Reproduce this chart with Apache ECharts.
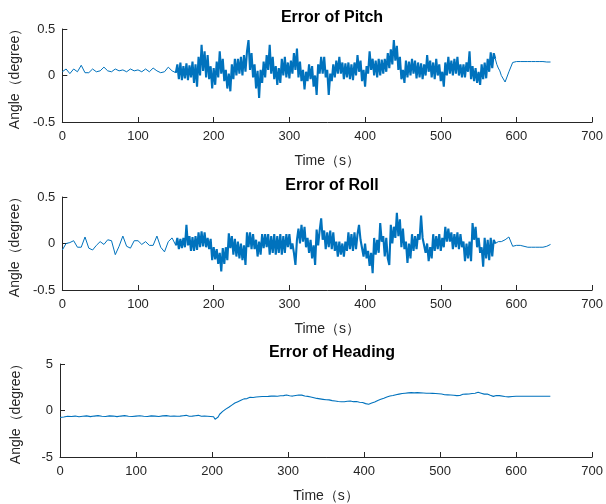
<!DOCTYPE html>
<html><head><meta charset="utf-8">
<script src="https://cdn.jsdelivr.net/npm/echarts@6/dist/echarts.min.js"></script>
<style>html,body{margin:0;padding:0;background:#fff}#c{width:606px;height:504px}</style>
</head><body><div id="c"></div>
<script>
const titles = ['Error of Pitch', 'Error of Roll', 'Error of Heading'];
const xName = 'Time（s）';
const yName = 'Angle（degree）';
const xTickValues = [0, 100, 200, 300, 400, 500, 600, 700];
const yLimits = [[-0.5, 0.5, 0.5], [-0.5, 0.5, 0.5], [-5, 5, 5]];

// sample times: 0..150 every 5 s, 152..580 every 2 s, 585..645 every 5 s
const times = [];
for (let s = 0; s <= 150; s += 5) times.push(s);
for (let s = 152; s <= 580; s += 2) times.push(s);
for (let s = 585; s <= 645; s += 5) times.push(s);

const pitch = [
  // 0..150 (step 5)
  0.04,0.07,0.02,0.07,0.04,0.11,0.03,0.03,0.07,0.04,0.05,0.09,0.05,0.04,0.07,0.05,0.06,0.04,0.07,0.05,0.06,0.04,0.07,0.04,0.08,0.05,0.03,0.04,0.09,0.05,0.03,
  // 152..580 (step 2) - alternating local highs / lows of the noisy trace
  0.12,-0.04,0.14,-0.05,0.1,-0.03,0.13,-0.05,0.11,-0.02,
  0.15,-0.08,0.12,-0.12,0.2,0.0,0.33,0.05,0.26,-0.02,
  0.22,-0.04,0.1,-0.14,0.08,-0.1,0.15,-0.02,0.26,0.02,
  0.18,-0.06,0.06,-0.14,0.02,-0.17,0.12,-0.04,0.18,0.0,
  0.18,0.02,0.2,0.0,0.22,0.04,0.26,0.38,0.06,0.24,
  -0.02,0.12,-0.14,0.05,-0.24,0.06,-0.08,0.15,-0.02,0.22,
  0.06,0.33,0.02,0.2,-0.04,0.1,-0.1,0.08,-0.08,0.18,
  0.0,0.2,-0.02,0.14,-0.03,0.16,0.02,0.24,0.06,0.29,
  -0.02,0.15,-0.06,0.06,-0.15,0.04,-0.06,0.12,-0.04,0.1,
  -0.12,0.0,-0.21,0.12,0.02,0.2,0.02,0.2,-0.02,0.06,
  -0.21,0.02,-0.06,0.12,-0.02,0.16,0.02,0.2,0.02,0.14,
  -0.04,0.13,-0.02,0.14,-0.04,0.12,-0.05,0.14,0.0,0.22,
  0.04,0.16,-0.06,0.06,-0.12,0.1,0.02,0.26,0.06,0.18,
  0.0,0.16,-0.02,0.18,0.0,0.17,0.02,0.18,0.04,0.24,
  0.08,0.28,0.12,0.38,0.16,0.32,0.06,0.2,-0.04,0.06,
  -0.08,0.16,-0.02,0.15,0.0,0.18,0.02,0.16,-0.03,0.14,
  -0.02,0.13,-0.04,0.12,0.0,0.22,0.04,0.16,-0.02,0.14,
  -0.04,0.18,0.0,0.12,-0.06,0.04,-0.12,0.14,0.0,0.2,
  0.02,0.16,0.0,0.18,0.02,0.2,0.0,0.12,-0.02,0.12,
  -0.02,0.14,0.04,0.26,-0.04,0.1,-0.06,0.08,-0.08,0.04,
  -0.1,0.12,-0.04,0.14,-0.03,0.18,0.04,0.25,0.08,0.24,
  0.18,0.12,0.08,0.05,0.0,
  // 585..645 (step 5)
  -0.07,0.04,0.14,0.15,0.15,0.15,0.15,0.15,0.15,0.15,0.15,0.145,0.145
];

const roll = [
  // 0..150
  -0.07,0.0,0.01,0.03,-0.04,-0.04,0.07,-0.05,-0.07,-0.02,0.02,-0.01,0.04,0.03,-0.12,-0.03,0.08,-0.03,-0.05,0.03,0.03,-0.01,0.02,-0.02,-0.02,0.08,-0.04,-0.09,0.02,0.06,-0.02,
  // 152..580
  0.06,-0.06,0.05,-0.05,0.06,-0.04,0.2,-0.02,0.08,-0.08,
  0.07,-0.08,0.08,-0.07,0.12,-0.04,0.13,-0.03,0.12,-0.04,
  0.06,-0.06,0.05,-0.18,-0.04,-0.17,-0.06,-0.22,-0.1,-0.3,
  -0.05,-0.22,-0.04,-0.18,0.11,-0.05,0.08,-0.12,0.05,-0.14,
  0.02,-0.16,0.0,-0.18,-0.02,-0.23,0.12,-0.04,0.12,-0.06,
  0.1,-0.06,0.04,-0.14,0.02,-0.12,0.1,-0.05,0.1,-0.04,
  0.1,-0.12,0.08,-0.1,0.1,-0.12,0.08,-0.1,0.1,-0.12,
  0.08,-0.1,0.1,-0.04,0.1,-0.06,0.0,-0.1,-0.23,0.04,
  0.16,0.0,0.2,0.02,0.18,-0.04,0.06,-0.1,0.04,-0.16,
  -0.02,-0.23,0.15,-0.02,0.14,0.27,0.04,0.14,-0.06,0.12,
  -0.04,0.14,-0.06,0.12,-0.08,0.02,-0.14,0.02,-0.12,0.0,
  -0.14,0.02,-0.08,0.12,-0.06,0.1,-0.08,0.12,-0.06,0.1,
  0.2,0.04,0.04,-0.14,0.0,-0.16,-0.08,-0.24,-0.1,-0.32,
  0.06,-0.12,0.04,-0.1,0.22,0.02,0.08,-0.14,0.06,-0.16,
  -0.23,0.2,0.0,0.18,0.06,0.33,0.08,0.26,-0.04,0.16,
  -0.06,0.02,-0.21,0.0,-0.16,0.1,-0.08,0.08,-0.06,0.1,
  0.04,0.3,0.06,0.04,-0.1,0.0,-0.19,-0.04,-0.16,0.1,
  -0.08,0.08,-0.06,0.1,-0.08,0.06,-0.04,0.18,0.02,0.16,
  0.02,0.12,-0.06,0.1,-0.04,0.12,-0.06,0.1,-0.04,0.02,
  -0.19,0.0,-0.16,0.02,-0.19,0.22,0.04,0.18,-0.04,0.06,
  -0.1,-0.04,-0.25,0.06,-0.16,0.04,-0.18,0.06,-0.14,0.04,
  0.0,-0.02,0.02,0.0,0.02,
  // 585..645
  0.04,0.07,-0.03,-0.02,-0.02,-0.03,-0.04,-0.04,-0.04,-0.04,-0.04,-0.03,-0.01
];

const heading = [
  // 0..150
  -0.75,-0.7,-0.62,-0.65,-0.6,-0.68,-0.62,-0.58,-0.66,-0.6,-0.55,-0.62,-0.65,-0.58,-0.6,-0.66,-0.6,-0.55,-0.62,-0.64,-0.6,-0.56,-0.62,-0.65,-0.58,-0.6,-0.64,-0.58,-0.55,-0.62,-0.6,
  // 152..580
  -0.58,-0.62,-0.55,-0.6,-0.64,-0.56,-0.6,-0.52,-0.58,-0.62,
  -0.55,-0.6,-0.5,-0.56,-0.6,-0.52,-0.58,-0.62,-0.55,-0.6,
  -0.56,-0.62,-0.58,-0.64,-0.62,-0.68,-0.95,-1.1,-0.7,-0.4,
  -0.25,-0.1,0.02,0.15,0.3,0.35,0.5,0.58,0.7,0.8,
  0.9,0.95,1.05,1.1,1.18,1.25,1.3,1.28,1.38,1.42,
  1.46,1.4,1.5,1.45,1.52,1.48,1.55,1.5,1.56,1.5,
  1.58,1.52,1.6,1.55,1.62,1.56,1.6,1.54,1.62,1.58,
  1.64,1.6,1.7,1.66,1.62,1.58,1.6,1.55,1.58,1.62,
  1.6,1.66,1.72,1.65,1.6,1.56,1.58,1.52,1.5,1.45,
  1.4,1.38,1.32,1.3,1.28,1.25,1.22,1.2,1.18,1.15,
  1.12,1.14,1.1,1.06,1.08,1.02,1.0,0.96,0.92,0.94,
  0.9,0.94,0.96,1.0,0.98,1.02,0.98,0.95,0.92,0.96,
  0.9,0.88,0.82,0.86,0.78,0.74,0.7,0.68,0.74,0.8,
  0.86,0.92,1.0,1.08,1.15,1.2,1.28,1.32,1.4,1.45,
  1.5,1.55,1.6,1.62,1.68,1.7,1.74,1.76,1.8,1.82,
  1.84,1.86,1.88,1.9,1.88,1.92,1.94,1.9,1.95,1.92,
  1.94,1.9,1.92,1.88,1.9,1.86,1.88,1.85,1.88,1.84,
  1.86,1.82,1.84,1.8,1.82,1.78,1.74,1.7,1.72,1.68,
  1.72,1.66,1.7,1.64,1.68,1.6,1.65,1.62,1.68,1.74,
  1.7,1.76,1.8,1.78,1.84,1.82,1.88,1.86,1.92,1.96,
  1.9,1.86,1.8,1.76,1.72,1.78,1.7,1.64,1.6,1.52,
  1.6,1.62,1.56,1.6,1.58,
  // 585..645
  1.5,1.46,1.5,1.53,1.53,1.53,1.53,1.53,1.53,1.53,1.53,1.53,1.53
];

const seriesValues = [pitch, roll, heading];
const gridTops = [29, 197, 364];
const gridHeight = 93;
const axisColor = '#262626';
const lineColor = '#0072BD';
const font = '"Liberation Sans", Arial, Helvetica, sans-serif';

// index ranges: quiet start, dense noisy middle, quiet tail
const iNoiseStart = times.indexOf(150);
const iNoiseEnd = times.indexOf(572);

function pairs(vals, a, b) {
  const out = [];
  for (let k = a; k <= b; k++) out.push([times[k], vals[k]]);
  return out;
}

const series = [];
seriesValues.forEach((vals, i) => {
  const noisy = i < 2;
  const parts = noisy
    ? [[0, iNoiseStart, 1], [iNoiseStart, iNoiseEnd, 2.1], [iNoiseEnd, times.length - 1, 1]]
    : [[0, times.length - 1, 1.1]];
  parts.forEach(p => {
    series.push({
      type: 'line', xAxisIndex: i, yAxisIndex: i,
      data: pairs(vals, p[0], p[1]),
      showSymbol: false, symbol: 'none',
      lineStyle: {color: lineColor, width: p[2], join: 'bevel'},
      itemStyle: {color: lineColor}
    });
  });
});

const chart = echarts.init(document.getElementById('c'), null, {renderer: 'canvas'});
const option = {
  animation: false,
  backgroundColor: '#fff',
  title: titles.map((t, i) => ({
    text: t,
    left: 327,
    top: gridTops[i] - 24,
    textAlign: 'center',
    textStyle: {fontFamily: font, fontSize: 16, fontWeight: 'bold', color: '#000'}
  })),
  grid: gridTops.map(top => ({left: 60, right: 12, top: top, height: gridHeight, containLabel: false})),
  xAxis: gridTops.map((_, i) => ({
    type: 'value', gridIndex: i, min: xTickValues[0], max: xTickValues[xTickValues.length - 1], interval: 100,
    name: xName, nameLocation: 'middle', nameGap: 32,
    nameTextStyle: {fontFamily: font, fontSize: 14, color: axisColor},
    axisLine: {show: true, onZero: false, lineStyle: {color: axisColor, width: 1}},
    axisTick: {show: true, inside: true, length: 5, lineStyle: {color: axisColor}},
    axisLabel: {fontFamily: font, fontSize: 13, color: axisColor, margin: 8},
    splitLine: {show: false}
  })),
  yAxis: yLimits.map((lim, i) => ({
    type: 'value', gridIndex: i, min: lim[0], max: lim[1], interval: lim[2],
    name: yName, nameLocation: 'middle', nameGap: 37,
    nameTextStyle: {fontFamily: font, fontSize: 14, color: axisColor},
    axisLine: {show: true, onZero: false, lineStyle: {color: axisColor, width: 1}},
    axisTick: {show: true, inside: true, length: 5, lineStyle: {color: axisColor}},
    axisLabel: {fontFamily: font, fontSize: 13, color: axisColor, margin: 7},
    splitLine: {show: false}
  })),
  series: series
};
chart.setOption(option);
</script></body></html>
